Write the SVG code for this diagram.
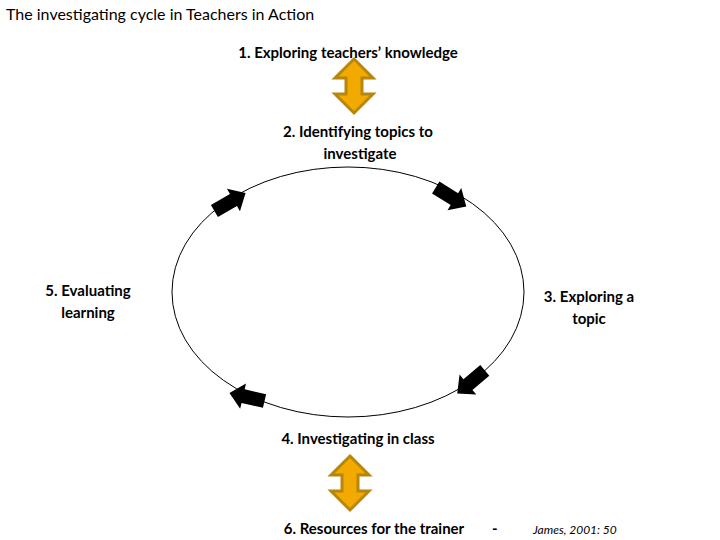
<svg xmlns="http://www.w3.org/2000/svg" width="720" height="540" viewBox="0 0 720 540">
<style>
text{font-family:Lato,"Open Sans",sans-serif;fill:#000}
.l{font-size:15px;font-weight:bold;text-anchor:middle}
.d{fill:#f2aa00;stroke:#b8860b;stroke-width:3;stroke-linejoin:miter}
</style>
<defs>
<polygon id="blk" points="-18,-7 4,-7 4,-13 18,0 4,13 4,7 -18,7" fill="#000"/>
<polygon id="dbl" class="d" points="0,-27 19,-8 8,-8 8,8 19,8 0,27 -19,8 -8,8 -8,-8 -19,-8"/>
</defs>
<rect width="720" height="540" fill="#fff"/>
<text x="6" y="20" font-size="16">The investigating cycle in Teachers in Action</text>
<g id="connectors">
<ellipse cx="348" cy="292" rx="176" ry="125" fill="none" stroke="#000" stroke-width="1"/>
<use href="#blk" transform="translate(230,202) rotate(-30)"/>
<use href="#blk" transform="translate(451,197) rotate(32)"/>
<use href="#blk" transform="translate(471,382) rotate(140)"/>
<use href="#blk" transform="translate(247,397) rotate(193)"/>
</g>
<g id="n1"><text class="l" x="348" y="58">1. Exploring teachers’ knowledge</text></g>
<g id="a1"><use href="#dbl" transform="translate(354,86)"/></g>
<g id="n2"><text class="l" x="358" y="137">2. Identifying topics to</text><text class="l" x="360" y="159">investigate</text></g>
<g id="n3"><text class="l" x="589" y="302">3. Exploring a</text><text class="l" x="589" y="324">topic</text></g>
<g id="n4"><text class="l" x="358" y="444">4. Investigating in class</text></g>
<g id="n5"><text class="l" x="88" y="296">5. Evaluating</text><text class="l" x="88" y="318">learning</text></g>
<g id="a2"><use href="#dbl" transform="translate(350,483)"/></g>
<g id="n6"><text class="l" x="374" y="534">6. Resources for the trainer</text><text x="492" y="534" font-size="15" font-weight="bold">-</text>
<text x="533" y="534" font-size="12" font-style="italic" font-family="'Liberation Serif',serif">James,  2001: 50</text></g>
</svg>
